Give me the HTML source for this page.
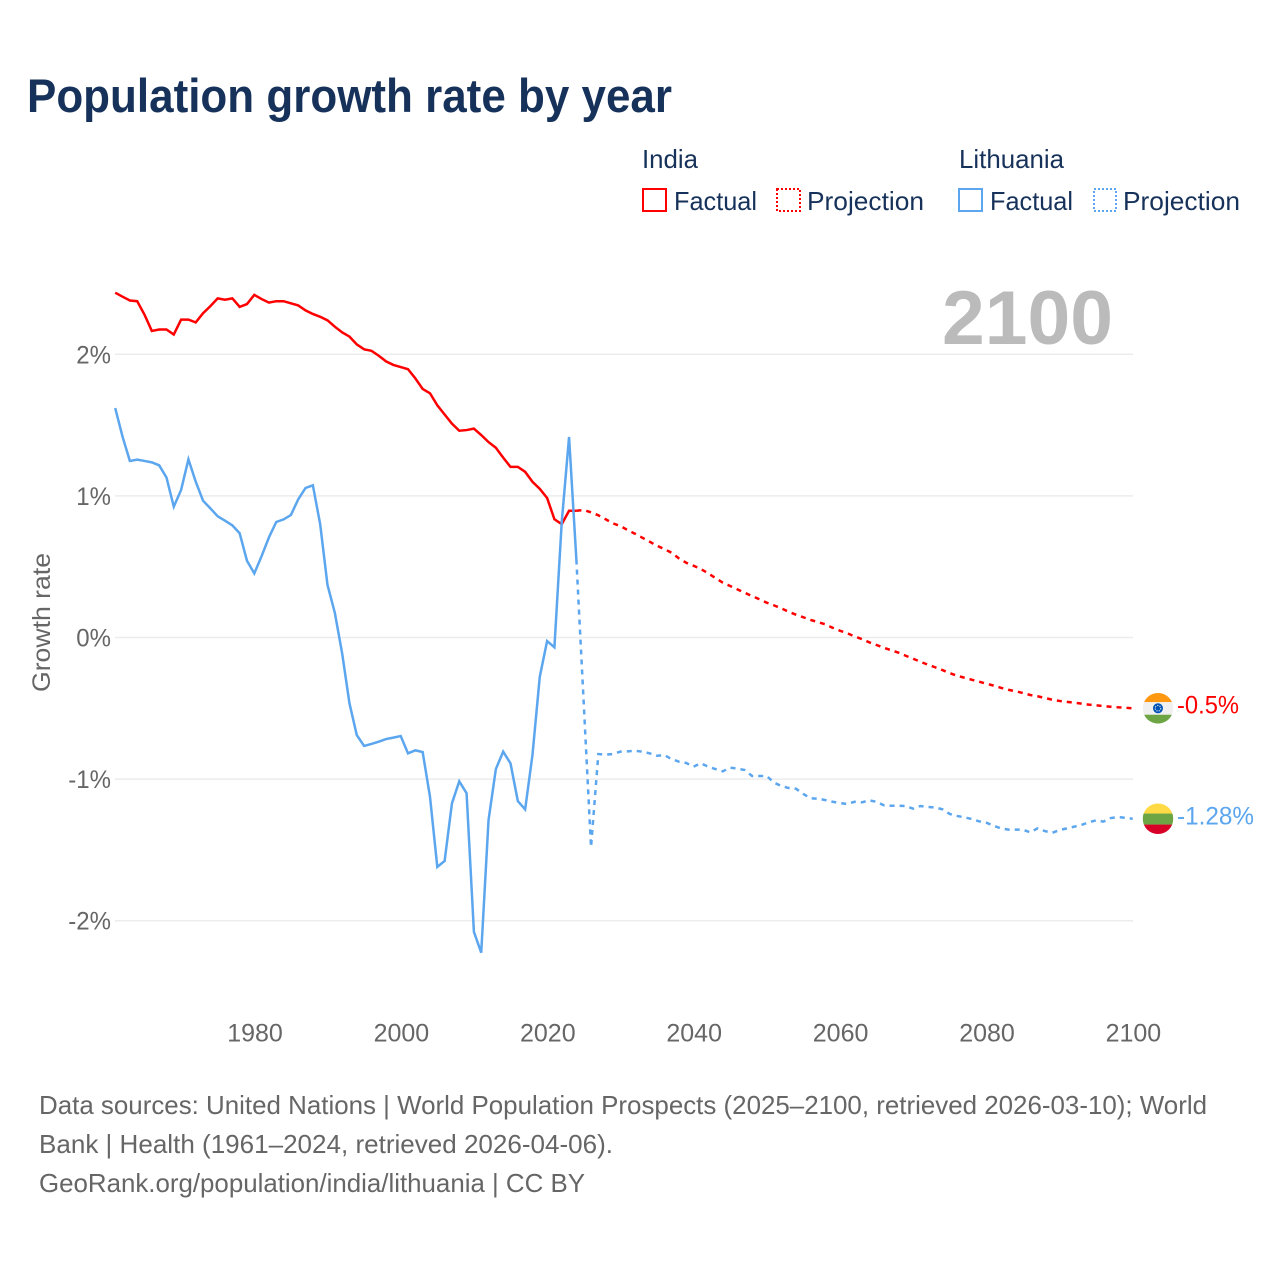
<!DOCTYPE html>
<html lang="en">
<head>
<meta charset="utf-8">
<title>Population growth rate by year</title>
<style>
html,body{margin:0;padding:0;background:#fff;}
svg{display:block;font-family:"Liberation Sans",sans-serif;}
</style>
</head>
<body>
<svg id="chart" xmlns="http://www.w3.org/2000/svg" width="1280" height="1280" viewBox="0 0 1280 1280">
  <defs>
    <clipPath id="india-flag-clip"><circle id="india-clip-circle" r="15.3"/></clipPath>
    <clipPath id="lithuania-flag-clip"><circle id="lithuania-clip-circle" r="15.3"/></clipPath>
  </defs>
  <rect x="0" y="0" width="1280" height="1280" fill="#fff"/>
  <text x="27" y="112" font-size="47" font-weight="700" fill="#17325a" textLength="645" lengthAdjust="spacingAndGlyphs">Population growth rate by year</text>

  <g font-size="26" fill="#17325a">
    <text x="642" y="168" textLength="56" lengthAdjust="spacingAndGlyphs">India</text>
    <rect x="643" y="189" width="23" height="22" fill="none" stroke="#ff0000" stroke-width="2"/>
    <text x="674" y="210" textLength="83" lengthAdjust="spacingAndGlyphs">Factual</text>
    <rect x="777" y="189" width="23" height="22" fill="none" stroke="#ff0000" stroke-width="2" stroke-dasharray="2 2"/>
    <text x="807" y="210" textLength="117" lengthAdjust="spacingAndGlyphs">Projection</text>
    <text x="959" y="168" textLength="105" lengthAdjust="spacingAndGlyphs">Lithuania</text>
    <rect x="959" y="189" width="23" height="22" fill="none" stroke="#5ba6ee" stroke-width="2"/>
    <text x="990" y="210" textLength="83" lengthAdjust="spacingAndGlyphs">Factual</text>
    <rect x="1094" y="189" width="22" height="22" fill="none" stroke="#5ba6ee" stroke-width="2" stroke-dasharray="2 2"/>
    <text x="1123" y="210" textLength="117" lengthAdjust="spacingAndGlyphs">Projection</text>
  </g>

  <g id="grid"></g>
  <text x="942" y="344" font-size="76" font-weight="700" fill="#bbbbbb" textLength="171" lengthAdjust="spacingAndGlyphs">2100</text>
  <g id="y-ticks"></g>
  <g id="x-ticks"></g>
  <text transform="translate(50,622.500) rotate(-90)" text-anchor="middle" font-size="25" fill="#666666" textLength="139" lengthAdjust="spacingAndGlyphs">Growth rate</text>
  <g id="series"></g>
  <g id="end-markers"></g>

  <g font-size="26" fill="#666666">
    <text x="39" y="1114" textLength="1168" lengthAdjust="spacingAndGlyphs">Data sources: United Nations | World Population Prospects (2025–2100, retrieved 2026-03-10); World</text>
    <text x="39" y="1153" textLength="574" lengthAdjust="spacingAndGlyphs">Bank | Health (1961–2024, retrieved 2026-04-06).</text>
    <text x="39" y="1192" textLength="546" lengthAdjust="spacingAndGlyphs">GeoRank.org/population/india/lithuania | CC BY</text>
  </g>
</svg>

<script>
const xTickYears = [1980, 2000, 2020, 2040, 2060, 2080, 2100];
const yTickValues = [2, 1, 0, -1, -2];
const factualStartYear = 1961;
const projectionStartYear = 2025;
const indiaFactual = [2.435,2.407,2.38,2.375,2.28,2.165,2.175,2.175,2.14,2.245,2.245,2.225,2.29,2.34,2.395,2.385,2.395,2.335,2.355,2.42,2.39,2.365,2.375,2.375,2.36,2.345,2.31,2.285,2.265,2.24,2.195,2.155,2.125,2.07,2.035,2.025,1.99,1.95,1.925,1.91,1.895,1.83,1.755,1.725,1.64,1.575,1.51,1.46,1.465,1.475,1.43,1.38,1.34,1.27,1.205,1.205,1.17,1.10,1.05,0.985,0.835,0.80,0.895,0.895];
const indiaProjection = [0.90,0.884,0.863,0.835,0.806,0.787,0.759,0.733,0.705,0.677,0.648,0.625,0.599,0.559,0.528,0.507,0.484,0.453,0.42,0.387,0.364,0.34,0.316,0.293,0.27,0.246,0.227,0.206,0.182,0.161,0.143,0.124,0.109,0.093,0.069,0.048,0.03,0.008,-0.011,-0.034,-0.053,-0.072,-0.09,-0.107,-0.129,-0.15,-0.171,-0.192,-0.21,-0.23,-0.251,-0.27,-0.284,-0.298,-0.312,-0.326,-0.34,-0.355,-0.369,-0.38,-0.392,-0.406,-0.415,-0.427,-0.439,-0.448,-0.455,-0.46,-0.467,-0.474,-0.479,-0.484,-0.489,-0.493,-0.496,-0.5];
const lithuaniaFactual = [1.62,1.418,1.247,1.256,1.247,1.237,1.216,1.13,0.924,1.042,1.258,1.10,0.966,0.912,0.856,0.825,0.792,0.736,0.542,0.453,0.575,0.707,0.816,0.834,0.865,0.976,1.056,1.075,0.80,0.371,0.175,-0.112,-0.465,-0.689,-0.766,-0.752,-0.736,-0.717,-0.707,-0.696,-0.818,-0.797,-0.809,-1.124,-1.62,-1.578,-1.171,-1.016,-1.10,-2.078,-2.226,-1.289,-0.929,-0.806,-0.889,-1.155,-1.214,-0.83,-0.277,-0.025,-0.069,0.815,1.416,0.55];
const lithuaniaProjection = [-0.46,-1.48,-0.823,-0.827,-0.823,-0.806,-0.804,-0.80,-0.806,-0.818,-0.835,-0.83,-0.858,-0.877,-0.886,-0.912,-0.888,-0.912,-0.929,-0.945,-0.919,-0.926,-0.936,-0.978,-0.978,-0.978,-1.025,-1.049,-1.063,-1.068,-1.105,-1.136,-1.138,-1.148,-1.16,-1.169,-1.176,-1.16,-1.164,-1.15,-1.16,-1.185,-1.188,-1.188,-1.19,-1.209,-1.19,-1.197,-1.20,-1.213,-1.246,-1.26,-1.27,-1.282,-1.298,-1.308,-1.329,-1.348,-1.357,-1.357,-1.357,-1.376,-1.348,-1.367,-1.379,-1.36,-1.348,-1.336,-1.324,-1.305,-1.291,-1.30,-1.275,-1.268,-1.273,-1.28];

const SVG_NS = 'http://www.w3.org/2000/svg';
const RED = '#ff0000';
const BLUE = '#5ba6ee';
const LINE_WIDTH = 2.5;
const xScale = function (year) { return 254.3 + (year - 1980) * 7.32; };
const yScale = function (value) { return 637.5 - value * 141.6; };

function make(tag, parent) {
  const el = document.createElementNS(SVG_NS, tag);
  parent.appendChild(el);
  return el;
}

function pathFrom(startYear, values, priorPoint) {
  const pts = values.map(function (v, i) {
    return xScale(startYear + i).toFixed(2) + ',' + yScale(v).toFixed(2);
  });
  if (priorPoint) { pts.unshift(priorPoint); }
  return 'M' + pts.join('L');
}

const gridGroup = document.getElementById('grid');
const yTickGroup = document.getElementById('y-ticks');
yTickValues.forEach(function (v) {
  const line = make('line', gridGroup);
  
  
  line.setAttribute('x1', 115);
  line.setAttribute('x2', 1133);
  line.setAttribute('y1', yScale(v));
  line.setAttribute('y2', yScale(v));
  line.setAttribute('stroke', '#ececec');
  line.setAttribute('stroke-width', 1.5);

  const label = make('text', yTickGroup);
  
  
  label.setAttribute('x', 111);
  label.setAttribute('y', yScale(v) + 9);
  label.setAttribute('text-anchor', 'end');
  label.setAttribute('font-size', 25);
  label.setAttribute('fill', '#666666');
  label.textContent = v + '%';
  label.setAttribute('textLength', (label.getComputedTextLength() * 0.96).toFixed(1));
  label.setAttribute('lengthAdjust', 'spacingAndGlyphs');
});

const xTickGroup = document.getElementById('x-ticks');
xTickYears.forEach(function (year) {
  const label = make('text', xTickGroup);
  
  
  label.setAttribute('x', xScale(year) + 0.7);
  label.setAttribute('y', 1041.5);
  label.setAttribute('text-anchor', 'middle');
  label.setAttribute('font-size', 25);
  label.setAttribute('fill', '#666666');
  label.textContent = String(year);
});

const seriesGroup = document.getElementById('series');

const indiaFactualPath = make('path', seriesGroup);


indiaFactualPath.setAttribute('d', pathFrom(factualStartYear, indiaFactual));
indiaFactualPath.setAttribute('fill', 'none');
indiaFactualPath.setAttribute('stroke', RED);
indiaFactualPath.setAttribute('stroke-width', LINE_WIDTH);

const indiaLast = xScale(factualStartYear + indiaFactual.length - 1).toFixed(2) + ',' + yScale(indiaFactual[indiaFactual.length - 1]).toFixed(2);
const indiaProjectionPath = make('path', seriesGroup);


indiaProjectionPath.setAttribute('d', pathFrom(projectionStartYear, indiaProjection, indiaLast));
indiaProjectionPath.setAttribute('fill', 'none');
indiaProjectionPath.setAttribute('stroke', RED);
indiaProjectionPath.setAttribute('stroke-width', LINE_WIDTH);
indiaProjectionPath.setAttribute('stroke-dasharray', '5 5');

const lithuaniaFactualPath = make('path', seriesGroup);


lithuaniaFactualPath.setAttribute('d', pathFrom(factualStartYear, lithuaniaFactual));
lithuaniaFactualPath.setAttribute('fill', 'none');
lithuaniaFactualPath.setAttribute('stroke', BLUE);
lithuaniaFactualPath.setAttribute('stroke-width', LINE_WIDTH);

const lithuaniaLast = xScale(factualStartYear + lithuaniaFactual.length - 1).toFixed(2) + ',' + yScale(lithuaniaFactual[lithuaniaFactual.length - 1]).toFixed(2);
const lithuaniaProjectionPath = make('path', seriesGroup);


lithuaniaProjectionPath.setAttribute('d', pathFrom(projectionStartYear, lithuaniaProjection, lithuaniaLast));
lithuaniaProjectionPath.setAttribute('fill', 'none');
lithuaniaProjectionPath.setAttribute('stroke', BLUE);
lithuaniaProjectionPath.setAttribute('stroke-width', LINE_WIDTH);
lithuaniaProjectionPath.setAttribute('stroke-dasharray', '5 5');

/* End-of-line flags: circle-clipped stripes */
function drawStripes(parent, cx, cy, country, colors, fractions) {
  const r = 15.3;
  const clip = document.getElementById(country + '-clip-circle');
  clip.setAttribute('cx', cx);
  clip.setAttribute('cy', cy);
  parent.setAttribute('clip-path', 'url(#' + country + '-flag-clip)');
  let top = cy - r;
  fractions.forEach(function (f, i) {
    const stripe = make('rect', parent);
    
    
    stripe.setAttribute('x', cx - r);
    stripe.setAttribute('y', top);
    stripe.setAttribute('width', 2 * r);
    stripe.setAttribute('height', f * 2 * r);
    stripe.setAttribute('fill', colors[i]);
    top += f * 2 * r;
  });
}

const markerGroup = document.getElementById('end-markers');
const flagX = 1158;

const indiaEnd = indiaProjection[indiaProjection.length - 1];
const indiaFlag = make('g', markerGroup);


drawStripes(indiaFlag, flagX, yScale(indiaEnd), 'india', ['#ff9811', '#f0f0f0', '#6da544'], [0.3, 0.41, 0.29]);
const wheel = make('circle', indiaFlag);


wheel.setAttribute('cx', flagX);
wheel.setAttribute('cy', yScale(indiaEnd));
wheel.setAttribute('r', 5);
wheel.setAttribute('fill', '#0052b4');
const wheelHub = make('circle', indiaFlag);


wheelHub.setAttribute('cx', flagX);
wheelHub.setAttribute('cy', yScale(indiaEnd));
wheelHub.setAttribute('r', 2.8);
wheelHub.setAttribute('fill', 'none');
wheelHub.setAttribute('stroke', '#f0f0f0');
wheelHub.setAttribute('stroke-width', 1);
wheelHub.setAttribute('stroke-dasharray', '1.2 1.2');

const indiaValue = make('text', markerGroup);


indiaValue.setAttribute('x', 1177);
indiaValue.setAttribute('y', yScale(indiaEnd) + 5);
indiaValue.setAttribute('font-size', 25);
indiaValue.setAttribute('fill', RED);
indiaValue.textContent = indiaEnd + '%';
indiaValue.setAttribute('textLength', 62);
indiaValue.setAttribute('lengthAdjust', 'spacingAndGlyphs');

const lithuaniaEnd = lithuaniaProjection[lithuaniaProjection.length - 1];
const lithuaniaFlag = make('g', markerGroup);


drawStripes(lithuaniaFlag, flagX, yScale(lithuaniaEnd), 'lithuania', ['#ffda44', '#6da544', '#d80027'], [0.33, 0.36, 0.31]);

const lithuaniaValue = make('text', markerGroup);


lithuaniaValue.setAttribute('x', 1177);
lithuaniaValue.setAttribute('y', yScale(lithuaniaEnd) + 6);
lithuaniaValue.setAttribute('font-size', 25);
lithuaniaValue.setAttribute('fill', BLUE);
lithuaniaValue.textContent = lithuaniaEnd + '%';
lithuaniaValue.setAttribute('textLength', 77);
lithuaniaValue.setAttribute('lengthAdjust', 'spacingAndGlyphs');
</script>
</body>
</html>
